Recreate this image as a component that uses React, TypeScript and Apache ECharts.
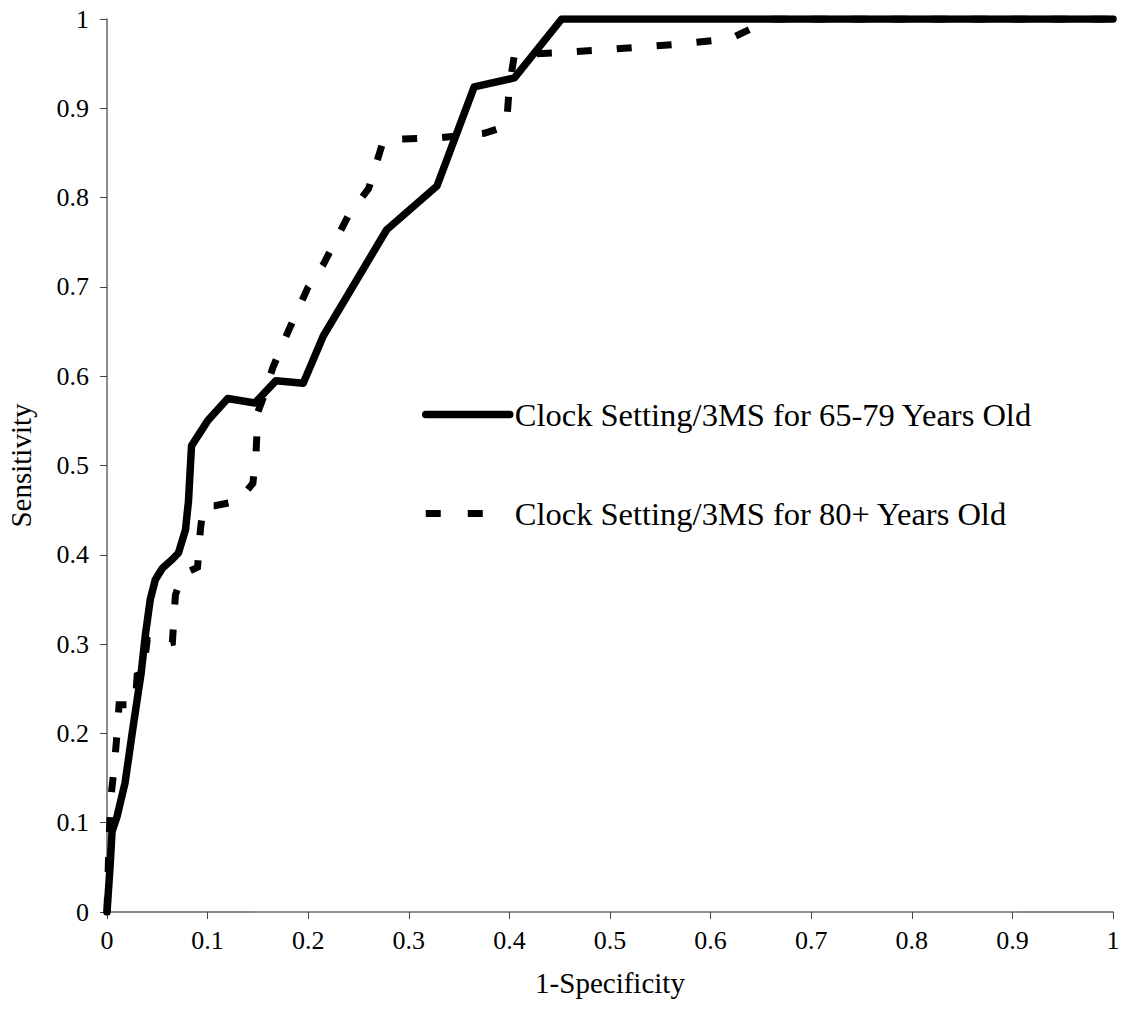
import React, { useEffect, useRef } from "react";
import * as echarts from "echarts";

const xTicks = [0, 0.1, 0.2, 0.3, 0.4, 0.5, 0.6, 0.7, 0.8, 0.9, 1];

const seriesNames = [
  "Clock Setting/3MS for 65-79 Years Old",
  "Clock Setting/3MS for 80+ Years Old",
];

// 1-Specificity, Sensitivity pairs for 65-79 years old
const young: [number, number][] = [
  [0, 0], [0.003, 0.05], [0.005, 0.09], [0.01, 0.107], [0.018, 0.145],
  [0.025, 0.2], [0.03, 0.238], [0.034, 0.268], [0.038, 0.309], [0.043, 0.35],
  [0.048, 0.372], [0.055, 0.385], [0.065, 0.395], [0.071, 0.402], [0.078, 0.428],
  [0.081, 0.46], [0.084, 0.522], [0.1, 0.55], [0.12, 0.575], [0.147, 0.57],
  [0.168, 0.595], [0.195, 0.592], [0.215, 0.645], [0.278, 0.764], [0.328, 0.813],
  [0.365, 0.924], [0.405, 0.934], [0.452, 1.0], [1, 1],
];

// 1-Specificity, Sensitivity pairs for 80+ years old
const old: [number, number][] = [
  [0, 0], [0.002, 0.08], [0.004, 0.13], [0.007, 0.16], [0.01, 0.2],
  [0.012, 0.232], [0.028, 0.232], [0.03, 0.265], [0.036, 0.268], [0.04, 0.305],
  [0.046, 0.297], [0.065, 0.302], [0.068, 0.355], [0.075, 0.378], [0.09, 0.386],
  [0.093, 0.43], [0.096, 0.455], [0.107, 0.455], [0.13, 0.46], [0.145, 0.48],
  [0.148, 0.51], [0.15, 0.56], [0.155, 0.575], [0.165, 0.61], [0.18, 0.65],
  [0.2, 0.7], [0.215, 0.725], [0.24, 0.78], [0.26, 0.81], [0.275, 0.865],
  [0.33, 0.867], [0.375, 0.872], [0.397, 0.88], [0.4, 0.925], [0.405, 0.96],
  [0.445, 0.962], [0.5, 0.966], [0.57, 0.972], [0.62, 0.978], [0.66, 1.0], [1, 1],
];

const FONT = "'Liberation Serif', 'Times New Roman', serif";

const fmt = (v: number) => String(xTicks.find((t) => Math.abs(t - v) < 1e-9) ?? v);

export default function App() {
  const ref = useRef<HTMLDivElement>(null);
  useEffect(() => {
    if (!ref.current) return;
    const chart = echarts.init(ref.current, null, { renderer: "svg" });
    chart.setOption({
      animation: false,
      backgroundColor: "#ffffff",
      textStyle: { fontFamily: FONT, color: "#000" },
      grid: {
        left: 107,
        right: 13,
        top: 19,
        bottom: 109,
        containLabel: false,
        outerBoundsMode: "none",
      } as any,
      legend: {
        orient: "vertical",
        left: 417,
        top: 393,
        itemWidth: 84,
        itemHeight: 34,
        itemGap: 66,
        itemStyle: { opacity: 0, borderWidth: 0 },
        lineStyle: { width: "inherit", type: "inherit", color: "inherit" } as any,
        textStyle: { fontFamily: FONT, fontSize: 32.5, color: "#000", padding: [0, 0, 0, 0] },
        data: [
          { name: seriesNames[0] },
          { name: seriesNames[1], lineStyle: { type: [15, 27], width: 7 } },
        ],
      },
      xAxis: {
        type: "value",
        min: 0,
        max: 1,
        interval: 0.1,
        name: "1-Specificity",
        nameLocation: "middle",
        nameGap: 56,
        nameTextStyle: { fontFamily: FONT, fontSize: 29, color: "#000" },
        axisLine: { show: true, lineStyle: { color: "#666", width: 1.5 } },
        axisTick: { show: true, inside: false, length: 7, lineStyle: { color: "#444" } },
        axisLabel: { fontFamily: FONT, fontSize: 26, color: "#000", margin: 15, formatter: fmt },
        splitLine: { show: false },
      },
      yAxis: {
        type: "value",
        min: 0,
        max: 1,
        interval: 0.1,
        name: "Sensitivity",
        nameLocation: "middle",
        nameGap: 72,
        nameRotate: 90,
        nameTextStyle: { fontFamily: FONT, fontSize: 29, color: "#000" },
        axisLine: { show: true, lineStyle: { color: "#666", width: 1.5 } },
        axisTick: { show: true, inside: false, length: 7, lineStyle: { color: "#444" } },
        axisLabel: { fontFamily: FONT, fontSize: 26, color: "#000", margin: 18, formatter: fmt },
        splitLine: { show: false },
      },
      series: [
        {
          name: seriesNames[0],
          type: "line",
          data: young,
          symbol: "none",
          smooth: false,
          z: 3,
          lineStyle: { color: "#000", width: 7.5, type: "solid", cap: "round", join: "round" },
          itemStyle: { color: "#000" },
        },
        {
          name: seriesNames[1],
          type: "line",
          data: old,
          symbol: "none",
          smooth: false,
          z: 2,
          lineStyle: { color: "#000", width: 7, type: [15, 25], cap: "butt", join: "miter" },
          itemStyle: { color: "#000" },
        },
      ],
    });
    return () => chart.dispose();
  }, []);
  return (
    <div
      ref={ref}
      style={{ position: "fixed", left: 0, top: 0, width: 1126, height: 1021, background: "#fff" }}
    />
  );
}
